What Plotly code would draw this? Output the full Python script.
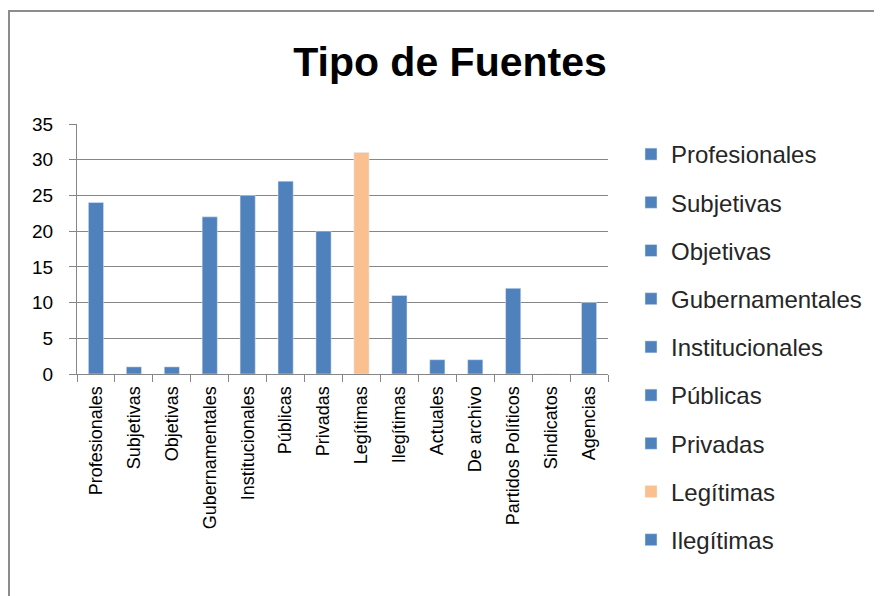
import plotly.graph_objects as go

categories = ["Profesionales", "Subjetivas", "Objetivas", "Gubernamentales",
              "Institucionales", "Públicas", "Privadas", "Legítimas", "Ilegítimas",
              "Actuales", "De archivo", "Partidos Políticos", "Sindicatos", "Agencias"]
values = [24, 1, 1, 22, 25, 27, 20, 31, 11, 2, 2, 12, 0, 10]
bar_colors = ["#4F81BD"] * 7 + ["#FAC090"] + ["#4F81BD"] * 6
legend_visible = 9  # the rest of the legend is cut off in the original picture

y_ticks = [0, 5, 10, 15, 20, 25, 30, 35]

FONT = "Liberation Sans"
W, H = 874, 588            # page body has an 8px margin
PL, PR, PT, PB = 69, 600, 116, 366   # plot area in figure pixels
PW, PH = PR - PL, PB - PT

fig = go.Figure()
for i, (c, v, col) in enumerate(zip(categories, values, bar_colors)):
    fig.add_trace(go.Bar(
        x=[c], y=[v], name=c, marker_color=col,
        legendgroup=c, showlegend=i < legend_visible,
    ))

fig.update_layout(
    width=W, height=H,
    margin=dict(l=PL, r=W - PR, t=PT, b=H - PB, autoexpand=False),
    paper_bgcolor="white", plot_bgcolor="white",
    barmode="relative", bargap=0.6,
    font=dict(family=FONT, color="#000000"),
    title=dict(text="<b>Tipo de Fuentes</b>", x=442 / W, xanchor="center",
               xref="container", y=1 - 54 / H, yanchor="middle", yref="container",
               font=dict(family=FONT, size=41, color="#000000")),
    legend=dict(x=(623 - PL) / PW, xanchor="left", y=1 - 8 / PH, yanchor="top",
                font=dict(family=FONT, size=24, color="#262626"),
                tracegroupgap=14, itemwidth=30, bgcolor="rgba(0,0,0,0)",
                maxheight=580),
    showlegend=True,
)

fig.update_xaxes(
    type="category", categoryorder="array", categoryarray=categories,
    showline=True, linecolor="#868686", linewidth=1,
    ticks="outside", tickson="boundaries", ticklen=7, tickcolor="#868686",
    tickangle=-90, tickfont=dict(family=FONT, size=18, color="#000000"),
    showgrid=False, ticklabelstandoff=4, automargin=False,
)
fig.update_yaxes(
    range=[0, 35], tickvals=y_ticks, ticktext=[str(t) for t in y_ticks],
    showline=True, linecolor="#868686", linewidth=1,
    ticks="outside", ticklen=7, tickcolor="#868686",
    showgrid=True, gridcolor="#868686", gridwidth=1, zeroline=False,
    tickfont=dict(family=FONT, size=19, color="#000000"), ticklabelstandoff=12,
    automargin=False,
)

# outer chart border (grey frame, partly cropped in original)
fig.add_shape(type="rect", xref="paper", yref="paper",
              x0=(1 - PL) / PW, x1=(900 - PL) / PW,
              y0=(PB - 620) / PH, y1=(PB - 3) / PH,
              line=dict(color="#8C8C8C", width=2), layer="below")

fig.write_html("out.html")
